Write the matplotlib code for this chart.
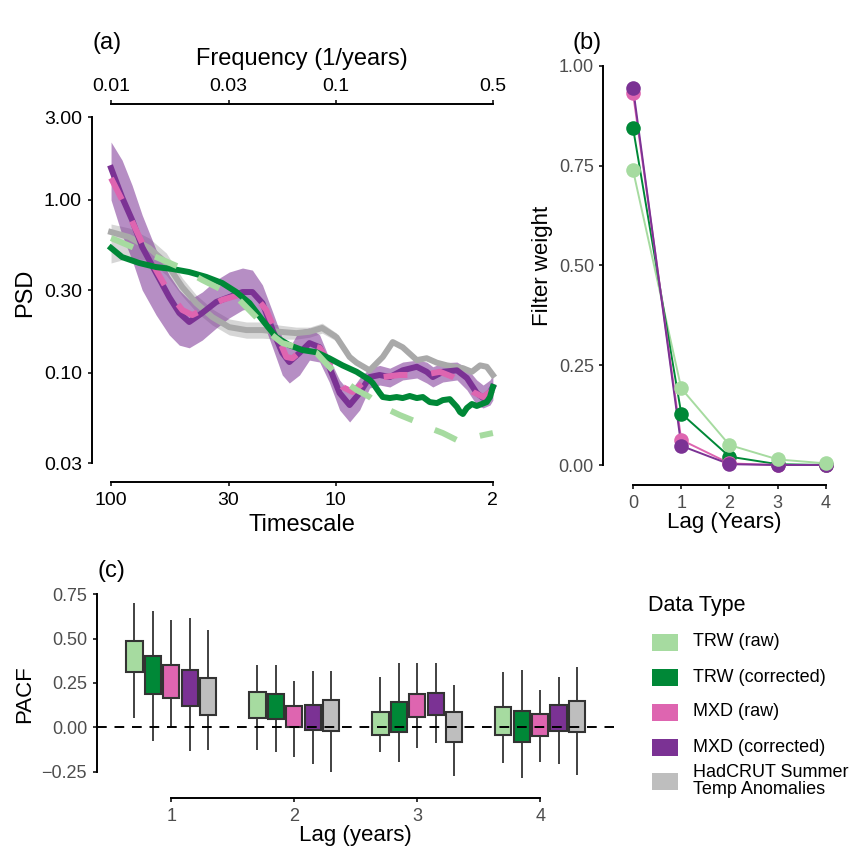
import numpy as np
import matplotlib.pyplot as plt
from matplotlib.patches import Rectangle
from matplotlib.ticker import NullLocator

plt.rcParams['font.family'] = ['Liberation Sans', 'DejaVu Sans']

# ---- panel (a): spectra (timescale in years, PSD) ----
mxdc_T = [100, 89.3, 80.6, 72.7, 63.0, 55.1, 49.7, 44.9, 39.3, 34.0, 29.8, 26.0, 23.5,
          21.2, 19.1, 17.3, 16.1, 14.5, 13.1, 11.8, 10.7, 9.62, 8.68, 7.83, 7.07, 6.38,
          5.75, 5.04, 4.36, 3.94, 3.70, 3.34, 2.89, 2.61, 2.36, 2.21, 2.06, 2.00]
mxdc_psd = [1.52, 1.03, 0.762, 0.532, 0.376, 0.273, 0.221, 0.196, 0.221, 0.256, 0.273,
            0.292, 0.292, 0.252, 0.176, 0.130, 0.115, 0.130, 0.148, 0.140, 0.108, 0.0762,
            0.0649, 0.0762, 0.0942, 0.0968, 0.0942, 0.103, 0.108, 0.101, 0.0942, 0.101,
            0.103, 0.0930, 0.0762, 0.0712, 0.0772, 0.0825]
mxdc_hi = [2.15, 1.69, 1.21, 0.814, 0.511, 0.366, 0.300, 0.263, 0.292, 0.343, 0.381,
           0.402, 0.391, 0.321, 0.224, 0.158, 0.139, 0.176, 0.181, 0.165, 0.121, 0.0906,
           0.0772, 0.0930, 0.106, 0.110, 0.106, 0.115, 0.118, 0.115, 0.108, 0.114, 0.115,
           0.106, 0.0906, 0.0847, 0.0906, 0.0968]
mxdc_lo = [0.994, 0.624, 0.447, 0.300, 0.215, 0.165, 0.144, 0.139, 0.154, 0.181, 0.207,
           0.230, 0.236, 0.201, 0.139, 0.0968, 0.0870, 0.0968, 0.118, 0.115, 0.0882,
           0.0608, 0.0518, 0.0608, 0.0814, 0.0847, 0.0825, 0.0906, 0.0930, 0.0870,
           0.0825, 0.0882, 0.0906, 0.0793, 0.0649, 0.0624, 0.0649, 0.0693]

mxdr_T = [100, 89.3, 72.7, 63.0, 55.1, 48.2, 43.5, 37.7, 32.0, 26.9, 23.5, 20.4, 18.4,
          16.6, 15.6, 14.1, 13.1, 11.8, 10.7, 9.33, 8.42, 7.59, 6.85, 6.18, 5.19, 4.55,
          4.10, 3.44, 3.01, 2.72, 2.45, 2.21, 2.00]
mxdr_psd = [1.33, 0.994, 0.561, 0.391, 0.288, 0.230, 0.215, 0.236, 0.263, 0.281, 0.288,
            0.230, 0.169, 0.123, 0.121, 0.135, 0.144, 0.139, 0.114, 0.0825, 0.0772,
            0.0870, 0.0942, 0.0942, 0.0968, 0.0968, 0.0968, 0.101, 0.0942, 0.0870,
            0.0772, 0.0722, 0.0793]

trwr_T = [100, 80.6, 63.0, 49.7, 39.3, 32.0, 26.9, 22.6, 19.7, 17.3, 14.5, 12.2, 10.7,
          9.33, 8.08, 7.07, 6.18, 5.19, 4.36, 3.82, 3.34, 2.89, 2.53, 2.21, 2.00]
trwr_psd = [0.599, 0.532, 0.465, 0.407, 0.343, 0.300, 0.263, 0.209, 0.169, 0.148, 0.139,
            0.130, 0.108, 0.0906, 0.0793, 0.0722, 0.0632, 0.0568, 0.0518, 0.0478,
            0.0447, 0.0407, 0.0418, 0.0435, 0.0447]

trwc_T = [100, 89.3, 75.0, 63.0, 53.4, 44.9, 37.7, 32.0, 27.7, 24.2, 21.2, 18.4, 16.1,
          14.1, 12.2, 10.7, 9.33, 8.08, 7.07, 6.85, 6.38, 6.18, 5.75, 5.36, 5.04, 4.69,
          4.36, 4.10, 3.82, 3.55, 3.34, 3.11, 2.89, 2.80, 2.72, 2.61, 2.48, 2.36, 2.24,
          2.13, 2.06, 2.00]
trwc_psd = [0.525, 0.465, 0.430, 0.407, 0.397, 0.381, 0.357, 0.329, 0.292, 0.252, 0.201,
            0.160, 0.144, 0.135, 0.131, 0.121, 0.110, 0.101, 0.0906, 0.0870, 0.0762,
            0.0722, 0.0712, 0.0722, 0.0712, 0.0732, 0.0712, 0.0722, 0.0675, 0.0666,
            0.0693, 0.0702, 0.0632, 0.0591, 0.0576, 0.0624, 0.0658, 0.0641, 0.0658,
            0.0675, 0.0722, 0.0825]

had_T = [100, 83.1, 67.7, 56.8, 48.2, 41.8, 35.4, 29.8, 25.0, 21.2, 17.8, 15.0, 13.1,
         11.5, 9.92, 8.68, 8.08, 7.07, 6.18, 5.58, 5.04, 4.36, 3.94, 3.55, 3.20, 2.72,
         2.48, 2.28, 2.13, 2.00]
had_psd = [0.649, 0.607, 0.525, 0.430, 0.312, 0.252, 0.209, 0.183, 0.176, 0.176, 0.172,
           0.169, 0.172, 0.181, 0.160, 0.123, 0.114, 0.103, 0.123, 0.150, 0.140, 0.118,
           0.121, 0.114, 0.110, 0.106, 0.101, 0.110, 0.108, 0.0968]
had_band_T = [100, 83.1, 67.7, 56.8, 48.2, 41.8, 35.4, 29.8, 25.0, 21.2, 17.8, 15.0,
              13.1, 11.5, 9.92]
had_band_hi = [0.722, 0.685, 0.599, 0.491, 0.352, 0.281, 0.233, 0.204, 0.196, 0.196,
               0.188, 0.183, 0.183, 0.193, 0.169]
had_band_lo = [0.430, 0.459, 0.447, 0.366, 0.277, 0.224, 0.188, 0.165, 0.158, 0.158,
               0.156, 0.156, 0.160, 0.169, 0.152]

psd_ticks = [0.03, 0.1, 0.3, 1, 3]
psd_labels = ['0.03', '0.10', '0.30', '1.00', '3.00']
timescale_ticks = [100, 30, 10, 2]
timescale_labels = ['100', '30', '10', '2']
freq_labels = ['0.01', '0.03', '0.1', '0.5']

# ---- panel (b): filter weights ----
lags = [0, 1, 2, 3, 4]
w_trw_raw = [0.739, 0.192, 0.050, 0.014, 0.004]
w_trw_corr = [0.845, 0.129, 0.021, 0.002, 0.0]
w_mxd_raw = [0.932, 0.063, 0.004, 0.0, 0.0]
w_mxd_corr = [0.946, 0.048, 0.002, 0.0, 0.0]

# ---- panel (c): PACF boxes (whisker low, q1, q3, whisker high) per lag ----
pacf_lags = [1, 2, 3, 4]
series_names = ['TRW (raw)', 'TRW (corrected)', 'MXD (raw)', 'MXD (corrected)',
                'HadCRUT Summer\nTemp Anomalies']
pacf_lo = [[0.053, -0.130, -0.141, -0.201],
           [-0.075, -0.139, -0.197, -0.286],
           [0.000, -0.169, -0.117, -0.197],
           [-0.135, -0.207, -0.088, -0.207],
           [-0.126, -0.252, -0.276, -0.267]]
pacf_q1 = [[0.310, 0.053, -0.043, -0.041],
           [0.190, 0.047, -0.024, -0.085],
           [0.165, 0.000, 0.058, -0.051],
           [0.122, -0.017, 0.068, -0.023],
           [0.068, -0.023, -0.081, -0.028]]
pacf_q3 = [[0.485, 0.199, 0.086, 0.115],
           [0.404, 0.188, 0.141, 0.094],
           [0.350, 0.122, 0.188, 0.077],
           [0.325, 0.128, 0.194, 0.128],
           [0.278, 0.156, 0.088, 0.147]]
pacf_hi = [[0.700, 0.353, 0.284, 0.310],
           [0.654, 0.353, 0.363, 0.321],
           [0.607, 0.263, 0.363, 0.212],
           [0.617, 0.316, 0.363, 0.284],
           [0.550, 0.316, 0.239, 0.340]]

LGREEN, DGREEN, PINK, PURPLE, GREY = '#a6dba0', '#008837', '#de65b0', '#7b3294', '#bebebe'
colors = [LGREEN, DGREEN, PINK, PURPLE, GREY]
TICKGREY = '#4d4d4d'

W, H = 853, 852


def rect(l, t, r, b):
    return [l / W, 1 - b / H, (r - l) / W, (b - t) / H]


def freq(T):
    return 1.0 / np.asarray(T, dtype=float)


fig = plt.figure(figsize=(W / 100, H / 100), dpi=100)

# ================= panel (a) =================
ax = fig.add_axes(rect(92, 104, 512, 482))
ax.set_xscale('log')
ax.set_yscale('log')
lw = 4.3
ax.fill_between(freq(had_band_T), had_band_lo, had_band_hi, color='#d6d6d6', lw=0)
ax.plot(freq(had_T), had_psd, color='#a9a9a9', lw=lw, solid_joinstyle='round')
ax.fill_between(freq(mxdc_T), mxdc_lo, mxdc_hi, color=PURPLE, alpha=0.55, lw=0)
ax.plot(freq(mxdc_T), mxdc_psd, color=PURPLE, lw=lw, solid_joinstyle='round')
ax.plot(freq(mxdr_T), mxdr_psd, color=PINK, lw=lw, dashes=(4, 4))
ax.plot(freq(trwc_T), trwc_psd, color=DGREEN, lw=lw, solid_joinstyle='round')
ax.plot(freq(trwr_T), trwr_psd, color=LGREEN, lw=lw, dashes=(4, 4))

ax.set_xlim(0.008227, 0.6082)
ax.set_ylim(0.02330, 3.567)
ax.set_yticks(psd_ticks, psd_labels)
ax.set_xticks(freq(timescale_ticks), timescale_labels)
ax.xaxis.set_minor_locator(NullLocator())
ax.yaxis.set_minor_locator(NullLocator())
for s in ['top', 'right']:
    ax.spines[s].set_visible(False)
ax.spines['left'].set_bounds(0.03, 3)
ax.spines['bottom'].set_bounds(0.01, 0.5)
for s in ['left', 'bottom']:
    ax.spines[s].set_linewidth(1.4)
ax.tick_params(length=3, width=1.1, labelsize=14, colors='black')
ax.tick_params(axis='x', pad=4.5)
ax.tick_params(axis='y', pad=4.3)
ax.set_xlabel('Timescale', fontsize=17, labelpad=3)
ax.set_ylabel('PSD', fontsize=17, labelpad=5.5)

top = ax.secondary_xaxis('top')
top.set_ticks(freq(timescale_ticks), freq_labels)
top.xaxis.set_minor_locator(NullLocator())
top.spines['top'].set_bounds(0.01, 0.5)
top.spines['top'].set_linewidth(1.4)
top.tick_params(length=3, width=1.1, labelsize=14, colors='black', pad=3.6)
top.set_xlabel('Frequency (1/years)', fontsize=17, labelpad=9)

fig.text(93 / W, 1 - 43 / H, '(a)', fontsize=17, va='center', ha='left')

# ================= panel (b) =================
bx = fig.add_axes(rect(603, 46, 845, 485))
for wts, c in [(w_trw_raw, LGREEN), (w_trw_corr, DGREEN), (w_mxd_raw, PINK), (w_mxd_corr, PURPLE)]:
    bx.plot(lags, wts, color=c, lw=1.4, zorder=2)
for wts, c, z in [(w_trw_corr, DGREEN, 3), (w_mxd_raw, PINK, 3), (w_mxd_corr, PURPLE, 3),
                  (w_trw_raw, LGREEN, 4)]:
    bx.plot(lags, wts, 'o', color=c, ms=10.5, mec='none', zorder=z)
bx.set_xlim(-0.622, 4.394)
bx.set_ylim(-0.0501, 1.0501)
bx.set_xticks(lags)
bx.set_yticks([0, 0.25, 0.5, 0.75, 1.0], ['0.00', '0.25', '0.50', '0.75', '1.00'])
for s in ['top', 'right']:
    bx.spines[s].set_visible(False)
bx.spines['left'].set_bounds(0, 1)
bx.spines['bottom'].set_bounds(0, 4)
for s in ['left', 'bottom']:
    bx.spines[s].set_linewidth(1.4)
bx.tick_params(length=3, width=1.1, labelsize=13, labelcolor=TICKGREY)
bx.tick_params(axis='x', pad=4.5)
bx.tick_params(axis='y', pad=3.5)
bx.set_xlabel('Lag (Years)', fontsize=16, labelpad=0)
bx.set_ylabel('Filter weight', fontsize=16, labelpad=4)
fig.text(573 / W, 1 - 43 / H, '(b)', fontsize=17, va='center', ha='left')

# ================= panel (c) =================
cx = fig.add_axes(rect(97.5, 590, 614, 798))
offsets = [-0.3, -0.15, 0.0, 0.15, 0.3]
for k in range(5):
    xs = np.array(pacf_lags) + offsets[k]
    cx.vlines(xs, pacf_lo[k], pacf_hi[k], color='#333333', lw=1.3, zorder=2)
    heights = np.array(pacf_q3[k]) - np.array(pacf_q1[k])
    cx.bar(xs, heights, bottom=pacf_q1[k], width=0.133, color=colors[k],
           edgecolor='#333333', lw=1.5, zorder=3)
cx.axhline(0, color='black', lw=1.4, dashes=(5, 4), zorder=4)
cx.set_xlim(0.4, 4.6)
cx.set_ylim(-0.398, 0.774)
cx.set_xticks(pacf_lags)
cx.set_yticks([-0.25, 0, 0.25, 0.5, 0.75], ['\u22120.25', '0.00', '0.25', '0.50', '0.75'])
for s in ['top', 'right']:
    cx.spines[s].set_visible(False)
cx.spines['left'].set_bounds(-0.25, 0.75)
cx.spines['bottom'].set_bounds(1, 4)
for s in ['left', 'bottom']:
    cx.spines[s].set_linewidth(1.4)
cx.tick_params(length=3, width=1.1, labelsize=13, labelcolor=TICKGREY, pad=4.5)
cx.set_xlabel('Lag (years)', fontsize=16, labelpad=0)
cx.set_ylabel('PACF', fontsize=16, labelpad=5)
fig.text(98 / W, 1 - 571 / H, '(c)', fontsize=17, va='center', ha='left')

# legend for the data types (key squares + labels, ggplot-like rows)
fig.text(648 / W, 1 - 605 / H, 'Data Type', fontsize=15.5, va='center', ha='left')
row_y = [642, 677, 712, 747, 781]
for name, c, y in zip(series_names, colors, row_y):
    fig.add_artist(Rectangle((652 / W, 1 - (y + 8.5) / H), 26 / W, 17 / H,
                             transform=fig.transFigure, facecolor=c, edgecolor='none'))
    fig.text(693 / W, 1 - y / H, name, fontsize=13, va='center', ha='left',
             linespacing=1.05)

fig.savefig('out.png', dpi=100)
